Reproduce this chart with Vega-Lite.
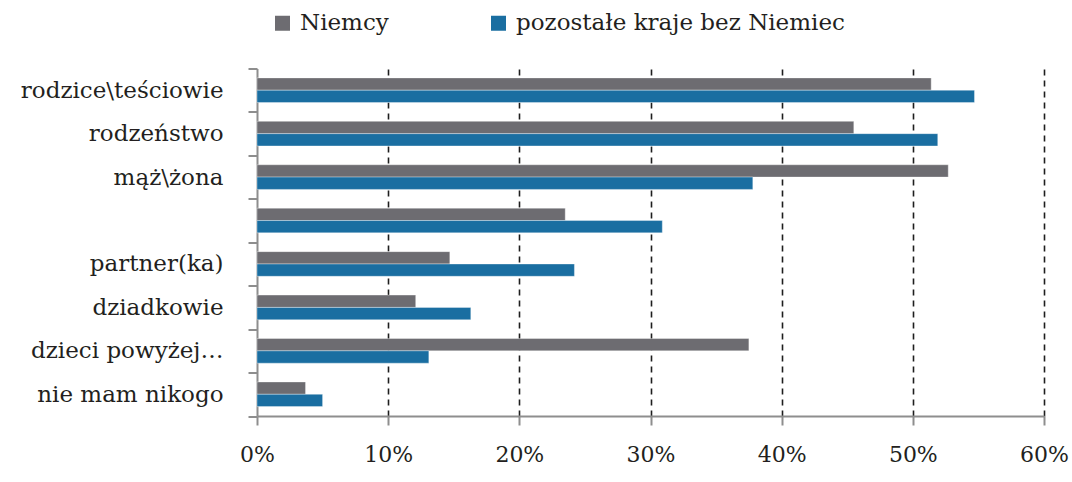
{
  "$schema": "https://vega.github.io/schema/vega-lite/v6.json",
  "width": 787,
  "height": 347.5,
  "autosize": "none",
  "padding": {"left": 257, "top": 68.5, "right": 28, "bottom": 66},
  "background": "white",
  "config": {
    "view": {"stroke": null},
    "font": "DejaVu Serif",
    "axis": {"labelFont": "DejaVu Serif"},
    "legend": {"labelFont": "DejaVu Serif"},
    "style": {"guide-label": {"font": "DejaVu Serif"}}
  },
  "data": {
    "values": [
      {"kategoria": "rodzice\\teściowie", "seria": "Niemcy", "wartosc": 0.514},
      {"kategoria": "rodzice\\teściowie", "seria": "pozostałe kraje bez Niemiec", "wartosc": 0.547},
      {"kategoria": "rodzeństwo", "seria": "Niemcy", "wartosc": 0.455},
      {"kategoria": "rodzeństwo", "seria": "pozostałe kraje bez Niemiec", "wartosc": 0.519},
      {"kategoria": "mąż\\żona", "seria": "Niemcy", "wartosc": 0.527},
      {"kategoria": "mąż\\żona", "seria": "pozostałe kraje bez Niemiec", "wartosc": 0.378},
      {"kategoria": " ", "seria": "Niemcy", "wartosc": 0.235},
      {"kategoria": " ", "seria": "pozostałe kraje bez Niemiec", "wartosc": 0.309},
      {"kategoria": "partner(ka)", "seria": "Niemcy", "wartosc": 0.147},
      {"kategoria": "partner(ka)", "seria": "pozostałe kraje bez Niemiec", "wartosc": 0.242},
      {"kategoria": "dziadkowie", "seria": "Niemcy", "wartosc": 0.121},
      {"kategoria": "dziadkowie", "seria": "pozostałe kraje bez Niemiec", "wartosc": 0.163},
      {"kategoria": "dzieci powyżej…", "seria": "Niemcy", "wartosc": 0.375},
      {"kategoria": "dzieci powyżej…", "seria": "pozostałe kraje bez Niemiec", "wartosc": 0.131},
      {"kategoria": "nie mam nikogo", "seria": "Niemcy", "wartosc": 0.037},
      {"kategoria": "nie mam nikogo", "seria": "pozostałe kraje bez Niemiec", "wartosc": 0.05}
    ]
  },
  "mark": {"type": "bar", "stroke": "#ffffff", "strokeOpacity": 0.45, "strokeWidth": 0.8},
  "encoding": {
    "y": {
      "field": "kategoria",
      "type": "nominal",
      "sort": ["rodzice\\teściowie", "rodzeństwo", "mąż\\żona", " ", "partner(ka)", "dziadkowie", "dzieci powyżej…", "nie mam nikogo"],
      "scale": {"paddingInner": 0, "paddingOuter": 0},
      "axis": {
        "title": null,
        "grid": false,
        "tickBand": "extent",
        "domainColor": "#8e8e8e",
        "domainWidth": 2,
        "tickColor": "#8e8e8e",
        "tickWidth": 2,
        "tickSize": 9,
        "labelFont": "DejaVu Serif",
        "labelFontSize": 23,
        "labelColor": "#231f20",
        "labelPadding": 25,
        "labelLimit": 400
      }
    },
    "yOffset": {
      "field": "seria",
      "type": "nominal",
      "sort": ["Niemcy", "pozostałe kraje bez Niemiec"],
      "scale": {"paddingInner": 0, "paddingOuter": 0.76}
    },
    "x": {
      "field": "wartosc",
      "type": "quantitative",
      "scale": {"domain": [0, 0.6], "nice": false},
      "axis": {
        "title": null,
        "values": [0, 0.1, 0.2, 0.3, 0.4, 0.5, 0.6],
        "format": ".0%",
        "labelFlush": false,
        "grid": true,
        "gridColor": "#1e1e1e",
        "gridWidth": 1.6,
        "gridDash": [6, 5],
        "gridOpacity": {"condition": {"test": "datum.value === 0", "value": 0}, "value": 1},
        "domainColor": "#8e8e8e",
        "domainWidth": 2,
        "tickColor": "#8e8e8e",
        "tickWidth": 2,
        "tickSize": 9,
        "labelFont": "DejaVu Serif",
        "labelFontSize": 22,
        "labelColor": "#231f20",
        "labelPadding": 19
      }
    },
    "color": {
      "field": "seria",
      "type": "nominal",
      "sort": ["Niemcy", "pozostałe kraje bez Niemiec"],
      "scale": {"domain": ["Niemcy", "pozostałe kraje bez Niemiec"], "range": ["#6d6c71", "#1a6ea1"]},
      "legend": {
        "title": null,
        "orient": "none",
        "direction": "horizontal",
        "legendX": 14,
        "legendY": -57,
        "symbolType": "square",
        "symbolSize": 225,
        "symbolStrokeWidth": 0,
        "labelFont": "DejaVu Serif",
        "labelFontSize": 23,
        "labelColor": "#231f20",
        "labelOffset": 6,
        "columnPadding": 98,
        "labelLimit": 500
      }
    }
  }
}
